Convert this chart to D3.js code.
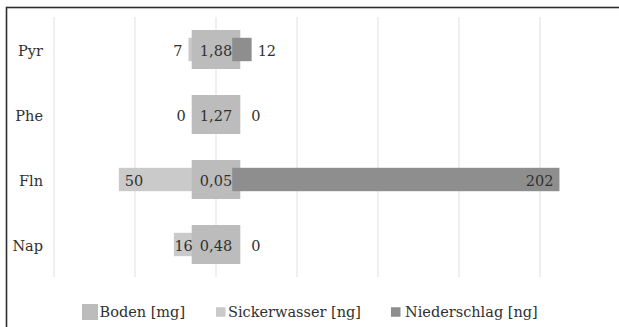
<!DOCTYPE html>
<html>
<head>
<meta charset="utf-8">
<script src="https://cdn.jsdelivr.net/npm/d3@7"></script>
<style>
  html, body { margin: 0; padding: 0; background: #fff; }
  svg { display: block; }
  text { font-family: "DejaVu Serif", serif; }
</style>
</head>
<body>
<svg id="chart" width="619" height="327"></svg>
<script>
// ---- data ----
const categories = ["Pyr", "Phe", "Fln", "Nap"];
const boden = [1.88, 1.27, 0.05, 0.48];          // Boden [mg]
const sickerwasser = [7, 0, 50, 16];             // Sickerwasser [ng]
const niederschlag = [12, 0, 202, 0];            // Niederschlag [ng]
const xTicks = [-100, -50, 0, 50, 100, 150, 200];
const seriesNames = ["Boden [mg]", "Sickerwasser [ng]", "Niederschlag [ng]"];

// ---- style ----
const colBoden = "#bcbcbc", colSicker = "#cacaca", colNieder = "#8e8e8e";
const textCol = "#303030";
const fontSize = 14.5;
const gap = 10;        // offset (data units) of side bars from zero
const bodenHalf = 15;  // half-width of the centre Boden block (data units)

const svg = d3.select("#chart");

// frame
svg.append("rect").attr("x", 6.5).attr("y", 7.5).attr("width", 800).attr("height", 800)
  .attr("fill", "none").attr("stroke", "#2e2e2e").attr("stroke-width", 1.6);

const x = d3.scaleLinear().domain([-100, 200]).range([54, 540]);
const y = d3.scaleBand().domain(categories).range([17, 277]);
const band = y.bandwidth();

// gridlines
svg.append("g").selectAll("line").data(xTicks).join("line")
  .attr("x1", d => x(d)).attr("x2", d => x(d))
  .attr("y1", 17).attr("y2", 277)
  .attr("stroke", "#e4e4e4").attr("stroke-width", 1.2);

const rows = categories.map((c, i) => ({ c, b: boden[i], s: sickerwasser[i], n: niederschlag[i] }));
const thinH = band * 0.36, thickH = band * 0.6;

// Sickerwasser (left)
svg.append("g").selectAll("rect").data(rows).join("rect")
  .attr("x", d => x(-gap - d.s)).attr("width", d => x(-gap) - x(-gap - d.s))
  .attr("y", d => y(d.c) + band / 2 - thinH / 2).attr("height", thinH)
  .attr("fill", colSicker);

// Boden (centre)
svg.append("g").selectAll("rect").data(rows).join("rect")
  .attr("x", x(-bodenHalf)).attr("width", x(bodenHalf) - x(-bodenHalf))
  .attr("y", d => y(d.c) + band / 2 - thickH / 2).attr("height", thickH)
  .attr("fill", colBoden);

// Niederschlag (right)
svg.append("g").selectAll("rect").data(rows).join("rect")
  .attr("x", x(gap)).attr("width", d => x(gap + d.n) - x(gap))
  .attr("y", d => y(d.c) + band / 2 - thinH / 2).attr("height", thinH)
  .attr("fill", colNieder);

// category labels
svg.append("g").selectAll("text").data(categories).join("text")
  .attr("x", 43).attr("y", d => y(d) + band / 2 + 1)
  .attr("text-anchor", "end").attr("dominant-baseline", "central")
  .attr("font-size", fontSize).attr("fill", textCol).text(d => d);

const fmtComma = v => d3.format(".2f")(v).replace(".", ",");
const labels = svg.append("g").attr("font-size", fontSize).attr("fill", textCol);

rows.forEach(d => {
  const cy = y(d.c) + band / 2 + 1;
  // Boden label
  labels.append("text").attr("x", x(0)).attr("y", cy)
    .attr("text-anchor", "middle").attr("dominant-baseline", "central").text(fmtComma(d.b));

  // Sickerwasser label
  const sl = labels.append("text").attr("y", cy).attr("dominant-baseline", "central").text(d.s);
  const sw = sl.node().getComputedTextLength();
  const left = x(-gap - d.s), bLeft = x(-bodenHalf);
  const vis = bLeft - left;
  if (vis >= sw - 3) {
    sl.attr("text-anchor", "start").attr("x", left + Math.max(0.5, Math.min(6, vis - sw)));
  } else {
    sl.attr("text-anchor", "end").attr("x", Math.min(left, bLeft) - 6);
  }

  // Niederschlag label
  const nl = labels.append("text").attr("y", cy).attr("dominant-baseline", "central").text(d.n);
  const nw = nl.node().getComputedTextLength();
  const right = x(gap + d.n), bRight = x(bodenHalf);
  if (right - bRight >= nw + 12) {
    nl.attr("text-anchor", "end").attr("x", right - 6);
  } else {
    nl.attr("text-anchor", "start").attr("x", Math.max(right, bRight + 5) + 6);
  }
});

// legend
const legend = svg.append("g").attr("font-size", fontSize).attr("fill", textCol);
const legendItems = [
  { name: seriesNames[0], col: colBoden, kx: 82, size: 16, tx: 99.5 },
  { name: seriesNames[1], col: colSicker, kx: 216, size: 9.5, tx: 228 },
  { name: seriesNames[2], col: colNieder, kx: 391, size: 9.5, tx: 405 }
];
legendItems.forEach(it => {
  legend.append("rect").attr("x", it.kx).attr("y", 312 - it.size / 2)
    .attr("width", it.size).attr("height", it.size).attr("fill", it.col);
  legend.append("text").attr("x", it.tx).attr("y", 312).attr("dominant-baseline", "central").text(it.name);
});
</script>
</body>
</html>
